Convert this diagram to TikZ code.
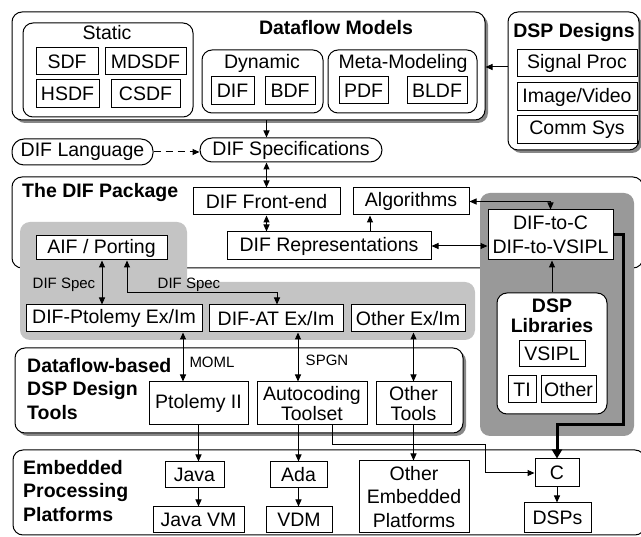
\documentclass[tikz,border=0pt]{standalone}
\usepackage{fontspec}
\setmainfont{Liberation Sans}
\usetikzlibrary{arrows.meta,shadows}
\definecolor{lgray}{RGB}{196,196,196}
\definecolor{dgray}{RGB}{153,153,153}
\definecolor{shgray}{RGB}{135,135,135}
\newcommand\bx[7][]{\node[box,minimum width={(#5-#3)*1pt},minimum height={(#6-#4)*1pt},#1] (#2) at ({(#3+#5)/2},{(#4+#6)/2}) {#7};}
\begin{document}
\begin{tikzpicture}[x=1pt,y=-1pt,
 box/.style={draw,line width=1pt,fill=white,inner sep=0pt,align=center,font=\fontsize{19.5}{19.5}\selectfont},
 cont/.style={rounded corners=10pt},
 shad/.style={drop shadow={shadow xshift=3pt,shadow yshift=-3pt,fill=shgray,opacity=1}},
 pill/.style={rounded corners=12pt},
 titl/.style={inner sep=0pt,font=\fontsize{19.5}{23.5}\selectfont\bfseries,align=left},
 ctitl/.style={inner sep=0pt,font=\fontsize{19.5}{19.5}\selectfont},
 lbl/.style={inner sep=0pt,font=\fontsize{15}{15}\selectfont},
 arr/.style={line width=1pt,-{Triangle[length=7pt,width=6pt]}},
 arrb/.style={line width=1pt,{Triangle[length=7pt,width=6pt]}-{Triangle[length=7pt,width=6pt]}},
 thickarr/.style={line width=3pt,-{Triangle[length=9pt,width=10pt]}},
]
\useasboundingbox (0,0) rectangle (641,537);
% containers
\bx[cont,shad]{dfm}{12}{12}{485}{120}{}
\bx[cont]{static}{23}{23}{193}{117}{}
\bx[cont]{dyn}{202}{50}{323}{113}{}
\bx[cont]{meta}{328}{50}{477}{113}{}
\bx[cont,shad]{dsp}{508}{12}{639}{150}{}
\bx[cont]{pkg}{12}{177}{643}{268}{}
\fill[lgray,rounded corners=10pt] (20,222) rectangle (187,300);
\fill[lgray,rounded corners=10pt] (20,282) rectangle (475,340);
\fill[dgray,rounded corners=10pt] (480,193) rectangle (634,436);
\bx[cont]{lib}{497}{293}{607}{414}{}
\bx[cont,shad]{tools}{15}{348}{463}{433}{}
\bx[cont]{emb}{13}{450}{645}{535}{}
% titles
\node[titl] (tdfm) at (336,28) {Dataflow Models};
\node[ctitl] (tstatic) at (107,33) {Static};
\node[ctitl] (tdyn) at (262,63) {Dynamic};
\node[ctitl] (tmeta) at (403,63) {Meta-Modeling};
\node[titl] (tdsp) at (574,33) {DSP Designs};
\node[titl,anchor=west] (tpkg) at (22,193) {The DIF Package};
\node[titl,align=center,font=\fontsize{19.5}{19.5}\selectfont\bfseries] (tlib) at (552,316) {DSP\\Libraries};
\node[titl,anchor=north west] (ttools) at (27,358) {Dataflow-based\\DSP Design\\Tools};
\node[titl,anchor=north west] (temb) at (23,460) {Embedded\\Processing\\Platforms};
% boxes
\bx{sdf}{36}{48}{98}{75}{SDF}
\bx{mdsdf}{105}{48}{186}{75}{MDSDF}
\bx{hsdf}{36}{80}{99}{108}{HSDF}
\bx{csdf}{111}{80}{180}{108}{CSDF}
\bx{dif}{211}{77}{254}{105}{DIF}
\bx{bdf}{265}{77}{315}{105}{BDF}
\bx{pdf}{339}{77}{388}{104}{PDF}
\bx{bldf}{407}{77}{467}{104}{BLDF}
\bx{sig}{517}{50}{637}{77}{Signal Proc}
\bx{img}{517}{83}{637}{111}{Image/Video}
\bx{comm}{517}{116}{637}{144}{Comm Sys}
\bx[pill]{diflang}{12}{139}{153}{165}{DIF Language}
\bx[pill]{difspec}{200}{138}{382}{162}{DIF Specifications}
\bx{fe}{193}{188}{340}{215}{DIF Front-end}
\bx{alg}{353}{188}{469}{215}{Algorithms}
\bx{rep}{227}{232}{431}{260}{DIF Representations}
\bx[font=\fontsize{19.5}{24}\selectfont]{difc}{488}{210}{613}{260}{DIF-to-C\\DIF-to-VSIPL}
\bx{vsipl}{519}{341}{585}{367}{VSIPL}
\bx{ti}{508}{376}{536}{403}{TI}
\bx{othl}{541}{376}{596}{403}{Other}
\bx{aif}{36}{236}{167}{260}{AIF / Porting}
\bx{ptex}{26}{305}{202}{332}{DIF-Ptolemy Ex/Im}
\bx{atex}{209}{305}{343}{332}{DIF-AT Ex/Im}
\bx{otex}{351}{305}{465}{332}{Other Ex/Im}
\bx{ptol}{149}{382}{248}{425}{Ptolemy II}
\bx{auto}{257}{382}{367}{425}{Autocoding\\Toolset}
\bx{otools}{376}{382}{451}{425}{Other\\Tools}
\bx{java}{165}{462}{224}{488}{Java}
\bx{javavm}{153}{507}{244}{533}{Java VM}
\bx{ada}{270}{462}{327}{488}{Ada}
\bx{vdm}{266}{507}{332}{533}{VDM}
\bx[font=\fontsize{19.5}{23.5}\selectfont]{oemb}{359}{461}{469}{533}{Other\\Embedded\\Platforms}
\bx{c}{535}{459}{579}{487}{C}
\bx{dsps}{524}{503}{591}{533}{DSPs}
% labels
\node[lbl] (l1) at (64,285) {DIF Spec};
\node[lbl] (l2) at (189,285) {DIF Spec};
\node[lbl] (l3) at (212,362) {MOML};
\node[lbl] (l4) at (327,360) {SPGN};
% connectors
\draw[arr] (dsp.west |- 0,67) -- (dfm.east |- 0,67);
\draw[arr] (dfm.south -| fe.north) -- (difspec.north -| fe.north);
\draw[arr,dash pattern=on 7pt off 5pt] (diflang.east) -- (diflang.east -| difspec.west);
\draw[arrb] (difspec.south -| fe.north) -- (fe.north);
\draw[arrb] (fe.south) -- (rep.north -| fe.south);
\draw[arr] (rep.north -| 370,0) -- (alg.south -| 370,0);
\draw[arrb] (alg.east) -| (difc.north);
\draw[arrb] (rep.east) -- (rep.east -| difc.west);
\draw[arr] (lib.north) -- (lib.north |- difc.south);
\draw[thickarr] (difc.east) -- (623,235) -- (623,425) -- (c.north |- 0,425) -- (c.north);
\draw[arrb] (aif.south -| 102,0) -- (ptex.north -| 102,0);
\draw[arrb] (aif.south -| 127,0) -- (127,293) -- (277,293) -- (atex.north -| 277,0);
\draw[arrb] (ptex.south -| 183,0) -- (ptol.north -| 183,0);
\draw[arrb] (atex.south -| 298,0) -- (auto.north -| 298,0);
\draw[arrb] (otex.south -| otools.north) -- (otools.north);
\draw[arr] (ptol.south) -- (java.north -| ptol.south);
\draw[arr] (java.south -| javavm.north) -- (javavm.north);
\draw[arr] (auto.south -| ada.north) -- (ada.north);
\draw[arr] (ada.south) -- (vdm.north -| ada.south);
\draw[arr] (otools.south) -- (oemb.north -| otools.south);
\draw[arr] (auto.south -| 332,0) -- (332,445) -- (485,445) -- (485,473) -- (c.west);
\draw[arr] (c.south) -- (dsps.north -| c.south);
\end{tikzpicture}
\end{document}
